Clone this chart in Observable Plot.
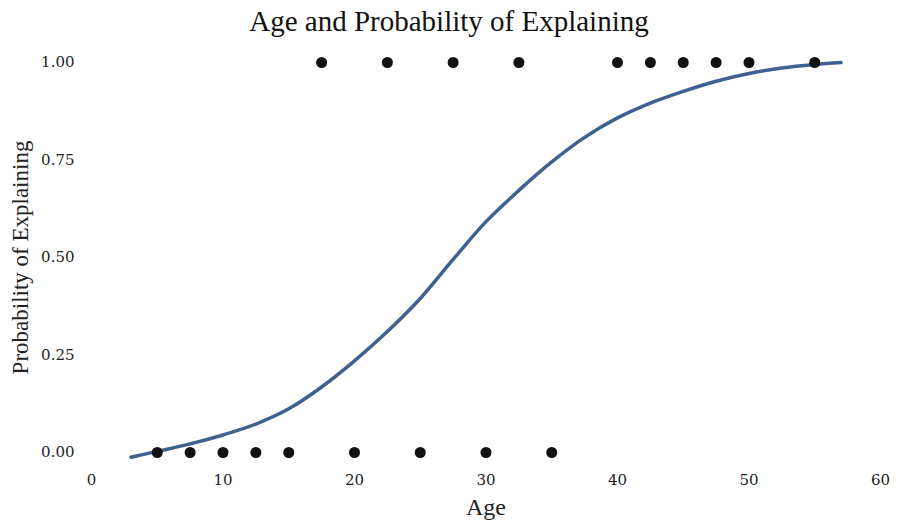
<!DOCTYPE html>
<html>
<head>
<meta charset="utf-8">
<script src="https://cdn.jsdelivr.net/npm/d3@7"></script>
<script src="https://cdn.jsdelivr.net/npm/@observablehq/plot@0.6"></script>
<style>
  html, body { margin: 0; padding: 0; background: #fff; }
  #title { height: 40px; line-height: 42px; text-align: center; font-family: "Liberation Serif", serif; font-size: 29px; color: #111; }
  g[aria-label="y-axis label"] text { font-family: "Liberation Serif", serif; font-size: 23px; }
  g[aria-label="x-axis label"] text { font-family: "Liberation Serif", serif; font-size: 24px; }
</style>
</head>
<body>
<div id="title">Age and Probability of Explaining</div>
<div id="chart"></div>
<script>
const ageZero = [5, 7.5, 10, 12.5, 15, 20, 25, 30, 35];
const ageOne = [17.5, 22.5, 27.5, 32.5, 40, 42.5, 45, 47.5, 50, 55];
const curveX = [3, 5, 7.5, 10, 12.5, 15, 17.5, 20, 22.5, 25, 27.5, 30, 32.5, 35, 37.5, 40, 42.5, 45, 47.5, 50, 52.5, 55, 57];
const curveY = [-0.012, 0.003, 0.022, 0.045, 0.073, 0.112, 0.168, 0.235, 0.31, 0.395, 0.495, 0.592, 0.672, 0.745, 0.808, 0.858, 0.896, 0.926, 0.952, 0.972, 0.986, 0.995, 1.0];
const xTicks = [0, 10, 20, 30, 40, 50, 60];
const yTicks = [0, 0.25, 0.5, 0.75, 1];

const points = [
  ...ageZero.map(a => ({age: a, p: 0})),
  ...ageOne.map(a => ({age: a, p: 1}))
];
const curve = curveX.map((x, i) => ({age: x, p: curveY[i]}));

const chart = Plot.plot({
  width: 898,
  height: 482,
  marginLeft: 91,
  marginRight: 18,
  marginTop: 22,
  marginBottom: 70,
  style: { fontFamily: "DejaVu Serif, serif", fontSize: "15px", color: "#222", background: "#fff" },
  x: { domain: [0, 60], ticks: xTicks, label: "Age", labelAnchor: "center", labelArrow: "none", labelOffset: 62, tickSize: 0, tickPadding: 22 },
  y: { domain: [0, 1], ticks: yTicks, tickFormat: d3.format(".2f"), label: "Probability of Explaining", labelAnchor: "center", labelArrow: "none", labelOffset: 80, tickSize: 0, tickPadding: 17 },
  marks: [
    Plot.line(curve, { x: "age", y: "p", stroke: "#3e6190", strokeWidth: 3.5, curve: "catmull-rom" }),
    Plot.dot(points, { x: "age", y: "p", r: 5.5, fill: "#111", stroke: "none" })
  ]
});
document.getElementById("chart").appendChild(chart);
</script>
</body>
</html>
